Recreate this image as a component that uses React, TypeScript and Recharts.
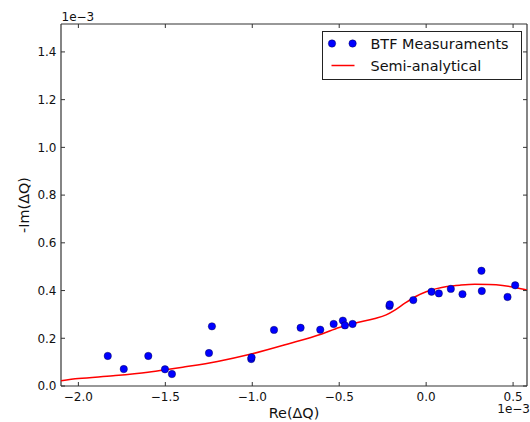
import React from 'react';
import { ScatterChart, Scatter, XAxis, YAxis, Label, Legend } from 'recharts';

// Values in units of 1e-3
const measX = [-1.831, -1.739, -1.598, -1.502, -1.462, -1.249, -1.232, -1.006, -1.004, -0.875, -0.722, -0.609, -0.532, -0.479, -0.467, -0.423, -0.211, -0.209, -0.074, 0.031, 0.073, 0.142, 0.209, 0.318, 0.32, 0.468, 0.512];
const measY = [0.126, 0.071, 0.126, 0.07, 0.05, 0.138, 0.25, 0.113, 0.12, 0.235, 0.244, 0.236, 0.26, 0.274, 0.254, 0.26, 0.335, 0.342, 0.36, 0.395, 0.388, 0.407, 0.385, 0.483, 0.398, 0.373, 0.422];

const curveX = [-2.1, -2.0, -1.8, -1.6, -1.5, -1.4, -1.2, -1.0, -0.8, -0.6, -0.5, -0.4, -0.3, -0.23, -0.18, -0.12, -0.06, 0.0, 0.06, 0.12, 0.2, 0.28, 0.36, 0.44, 0.52, 0.58];
const curveY = [0.022, 0.031, 0.043, 0.058, 0.068, 0.079, 0.103, 0.135, 0.175, 0.218, 0.245, 0.265, 0.282, 0.298, 0.318, 0.348, 0.375, 0.395, 0.408, 0.417, 0.423, 0.426, 0.425, 0.421, 0.412, 0.402];

const X_TICKS = [-2.0, -1.5, -1.0, -0.5, 0.0, 0.5];
const Y_TICKS = [0, 0.2, 0.4, 0.6, 0.8, 1.0, 1.2, 1.4];
const X_DOMAIN = [-2.1, 0.58];
const Y_DOMAIN = [0, 1.517];

const SERIES_NAMES = ['BTF Measuraments', 'Semi-analytical'];
const OFFSET_TEXT = '1e\u22123';
const X_LABEL = 'Re(\u0394Q)';
const Y_LABEL = '-Im(\u0394Q)';

const measData = measX.map((x, i) => ({ x, y: measY[i] }));
const curveData = curveX.map((x, i) => ({ x, y: curveY[i] }));

const FONT = '"DejaVu Sans", sans-serif';
const TEXT = '#111';
const SPINE = '#333';
const fmt = (v: number) => v.toFixed(1).replace('-', '\u2212');

const BottomTick = (p: any) => (
  <g>
    <line x1={p.x} x2={p.x} y1={p.y} y2={p.y - 4} stroke={SPINE} />
    <text x={p.x} y={p.y + 14.5} textAnchor="middle" fontSize={12} fontFamily={FONT} fill={TEXT}>
      {fmt(p.payload.value)}
    </text>
  </g>
);
const TopTick = (p: any) => (
  <line x1={p.x} x2={p.x} y1={p.y} y2={p.y + 4} stroke={SPINE} />
);
const LeftTick = (p: any) => (
  <g>
    <line x1={p.x} x2={p.x + 4} y1={p.y} y2={p.y} stroke={SPINE} />
    <text x={p.x - 4.5} y={p.y} dy="0.36em" textAnchor="end" fontSize={12} fontFamily={FONT} fill={TEXT}>
      {fmt(p.payload.value)}
    </text>
  </g>
);
const RightTick = (p: any) => (
  <line x1={p.x} x2={p.x - 4} y1={p.y} y2={p.y} stroke={SPINE} />
);

const Dot = (p: any) => (
  <circle cx={p.cx} cy={p.cy} r={3.7} fill="#0000ff" stroke="#000033" strokeWidth={0.4} />
);
const NoDot = () => <g />;

const LegendBox = () => (
  <svg width={201} height={50} style={{ display: 'block' }}>
    <rect x={0.5} y={0.5} width={199} height={48} fill="#fff" stroke="#222" strokeWidth={1} />
    <circle cx={10} cy={12.5} r={3.7} fill="#0000ff" stroke="#000033" strokeWidth={0.4} />
    <circle cx={30.6} cy={12.5} r={3.7} fill="#0000ff" stroke="#000033" strokeWidth={0.4} />
    <text x={48.5} y={12.5} dy="0.36em" fontSize={14.4} fontFamily={FONT} fill={TEXT}>{SERIES_NAMES[0]}</text>
    <line x1={9.5} x2={32.5} y1={34.5} y2={34.5} stroke="#ff0000" strokeWidth={1.5} />
    <text x={48.5} y={34.5} dy="0.36em" fontSize={14.4} fontFamily={FONT} fill={TEXT}>{SERIES_NAMES[1]}</text>
  </svg>
);

export default function App() {
  return (
    <div style={{ position: 'absolute', left: 0, top: 0, width: 530, height: 422, background: '#fff' }}>
      <ScatterChart width={530} height={422} margin={{ top: 0, right: 0, bottom: 0, left: 0 }}>
        <XAxis
          xAxisId="b"
          type="number"
          dataKey="x"
          domain={X_DOMAIN}
          ticks={X_TICKS}
          interval={0}
          allowDataOverflow
          height={36}
          tickSize={0}
          tickMargin={0}
          tickLine={false}
          tick={<BottomTick />}
          axisLine={{ stroke: SPINE, strokeWidth: 1.2 }}
        >
          <Label
            content={(p: any) => {
              const vb = p.viewBox;
              return (
                <g>
                  <text x={vb.x + vb.width / 2} y={vb.y + 32} textAnchor="middle" fontSize={14.4} fontFamily={FONT} fill={TEXT}>
                    {X_LABEL}
                  </text>
                  <text x={vb.x + vb.width + 3} y={vb.y + 27} textAnchor="end" fontSize={12} fontFamily={FONT} fill={TEXT}>
                    {OFFSET_TEXT}
                  </text>
                </g>
              );
            }}
          />
        </XAxis>
        <XAxis
          xAxisId="t"
          orientation="top"
          type="number"
          dataKey="x"
          domain={X_DOMAIN}
          ticks={X_TICKS}
          interval={0}
          allowDataOverflow
          height={24}
          tickSize={0}
          tickMargin={0}
          tickLine={false}
          tick={<TopTick />}
          axisLine={{ stroke: SPINE, strokeWidth: 1.2 }}
        >
          <Label
            content={(p: any) => {
              const vb = p.viewBox;
              return (
                <text x={vb.x + 0.5} y={vb.y + vb.height - 3.3} textAnchor="start" fontSize={12} fontFamily={FONT} fill={TEXT}>
                  {OFFSET_TEXT}
                </text>
              );
            }}
          />
        </XAxis>
        <YAxis
          yAxisId="l"
          type="number"
          dataKey="y"
          domain={Y_DOMAIN}
          ticks={Y_TICKS}
          interval={0}
          allowDataOverflow
          width={61}
          tickSize={0}
          tickMargin={0}
          tickLine={false}
          tick={<LeftTick />}
          axisLine={{ stroke: SPINE, strokeWidth: 1.2 }}
        >
          <Label
            content={(p: any) => {
              const vb = p.viewBox;
              const cx = 24;
              const cy = vb.y + vb.height / 2;
              return (
                <text x={cx} y={cy} dy="0.36em" transform={`rotate(-90 ${cx} ${cy})`} textAnchor="middle" fontSize={14.4} fontFamily={FONT} fill={TEXT}>
                  {Y_LABEL}
                </text>
              );
            }}
          />
        </YAxis>
        <YAxis
          yAxisId="r"
          orientation="right"
          type="number"
          dataKey="y"
          domain={Y_DOMAIN}
          ticks={Y_TICKS}
          interval={0}
          allowDataOverflow
          width={3}
          tickSize={0}
          tickMargin={0}
          tickLine={false}
          tick={<RightTick />}
          axisLine={{ stroke: SPINE, strokeWidth: 1.2 }}
        />
        <Legend
          layout="vertical"
          align="center"
          verticalAlign="middle"
          wrapperStyle={{ left: 322, top: 31, width: 201, height: 50 }}
          content={() => <LegendBox />}
        />
        <Scatter
          name={SERIES_NAMES[1]}
          data={curveData}
          xAxisId="b"
          yAxisId="l"
          line={{ stroke: '#ff0000', strokeWidth: 1.5 }}
          lineJointType="monotoneX"
          shape={<NoDot />}
          isAnimationActive={false}
        />
        <Scatter
          name={SERIES_NAMES[0]}
          data={measData}
          xAxisId="b"
          yAxisId="l"
          shape={<Dot />}
          isAnimationActive={false}
        />
      </ScatterChart>
    </div>
  );
}
